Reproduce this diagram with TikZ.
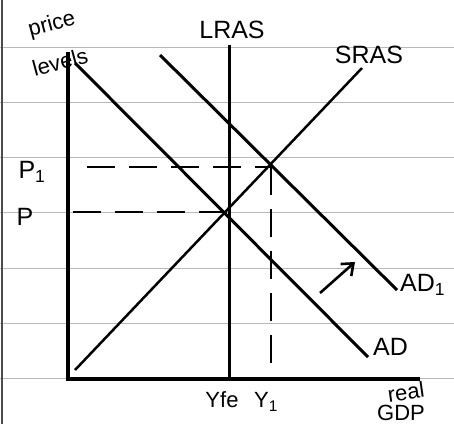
\documentclass[tikz,border=0pt]{standalone}
\usepackage{fontspec}
\setmainfont{Liberation Sans}
\usetikzlibrary{arrows.meta}
\begin{document}
\begin{tikzpicture}[x=1pt,y=-1pt,
  ruled/.style={gray!55, line width=0.9pt},
  axis/.style={black, line width=3.8pt},
  curve/.style={black, line width=3pt},
  guide/.style={black, line width=2.8pt, dash pattern=on 28pt off 14pt},
  lbl/.style={inner sep=0pt, font=\fontsize{25}{27}\selectfont},
  smalllbl/.style={inner sep=0pt, font=\fontsize{22}{24}\selectfont}]
\useasboundingbox (0,0) rectangle (454,424);
\fill[white] (0,0) rectangle (454,424);
% ruled paper
\foreach \yy in {47,102,157,212,268,323,378}
  \draw[ruled] (0,\yy) -- (454,\yy);
\draw[gray!60!black, line width=1.8pt] (2,0) -- (2,424);
% coordinates
\coordinate (O) at (68,379);
\coordinate (Ytop) at (68,52);
\coordinate (Xend) at (420,379);
\coordinate (LRtop) at (229,45);
\coordinate (LRbot) at (229,379);
\coordinate (ADs) at (75,63);
\coordinate (ADe) at (368,357);
\coordinate (AD1s) at (160,55);
\coordinate (AD1e) at (397,290);
\coordinate (SRs) at (75,370);
\coordinate (SRe) at (362,68);
\coordinate (E) at (229,212);
\coordinate (E1) at (271,167);
\coordinate (P1s) at (87,167);
\coordinate (Ps) at (73,212);
\coordinate (Y1b) at (271,379);
\coordinate (ArS) at (320,293);
\coordinate (ArE) at (355,262);
% axes
\draw[axis, line join=miter] (Ytop) -- (O) -- (Xend);
% curves
\draw[curve] (LRtop) -- (LRbot);
\draw[curve] (ADs) -- (ADe);
\draw[curve] (AD1s) -- (AD1e);
\draw[curve, line width=2.5pt] (SRs) -- (SRe);
% guides
\draw[guide] (P1s) -- (E1);
\draw[guide] (Ps) -- (E);
\draw[guide] (E1) -- (Y1b);
% shift arrow
\draw[curve, line width=2.6pt, -{Straight Barb[length=10pt,width=16pt,line width=2.6pt]}] (ArS) -- (ArE);
% labels
\node[smalllbl, rotate=15] (price) at (52,25) {price};
\node[smalllbl, rotate=15] (levels) at (60,62) {levels};
\node[lbl] (lras) at (232,30) {LRAS};
\node[lbl] (sras) at (369,55) {SRAS};
\node[lbl] (p1) at (32,172) {P\textsubscript{1}};
\node[lbl] (p) at (25,217) {P};
\node[lbl, anchor=west] (ad1) at (400,285) {AD\textsubscript{1}};
\node[lbl, anchor=west] (ad) at (373,347) {AD};
\node[smalllbl] (yfe) at (222,400) {Yfe};
\node[smalllbl] (y1) at (266,402) {Y\textsubscript{1}};
\node[smalllbl, rotate=8] (real) at (406,392) {real};
\node[smalllbl] (gdp) at (401,413) {GDP};
\end{tikzpicture}
\end{document}
